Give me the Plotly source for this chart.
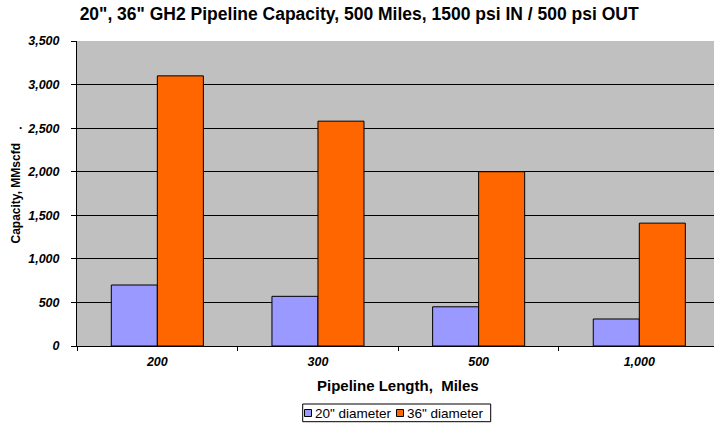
import plotly.graph_objects as go

categories = ["200", "300", "500", "1,000"]
dia20 = [700, 570, 450, 310]
dia36 = [3100, 2580, 2000, 1410]
series_names = ['20" diameter', '36" diameter']
series_colors = ["#9999FF", "#FF6600"]
y_ticks = [0, 500, 1000, 1500, 2000, 2500, 3000, 3500]

FONT = "Arial, Liberation Sans, sans-serif"

fig = go.Figure()
for vals, name, col in zip([dia20, dia36], series_names, series_colors):
    fig.add_trace(go.Bar(x=categories, y=vals, name=name, showlegend=False,
                         marker=dict(color=col, line=dict(color="black", width=1))))

# custom compact legend (box, swatches, labels) below the axis title
W0, WP = 77, 637      # plot-area left / width in px
B0, HP = 346, 305     # plot-area bottom / height in px
px = lambda v: (v - W0) / WP
py = lambda v: (B0 - v) / HP

shapes = [dict(type="rect", xref="paper", yref="paper",
               x0=px(302.7), x1=px(490.7), y0=py(421.7), y1=py(404),
               line=dict(color="black", width=1), fillcolor="white")]
annotations = []
sw_x = [304.5, 396.5]
for sx, name, col in zip(sw_x, series_names, series_colors):
    shapes.append(dict(type="rect", xref="paper", yref="paper",
                       x0=px(sx), x1=px(sx + 7), y0=py(416.5), y1=py(409.5),
                       line=dict(color="black", width=1), fillcolor=col))
    annotations.append(dict(text=name, x=px(sx + 8), y=py(413), xref="paper", yref="paper",
                            showarrow=False, xanchor="left", yanchor="middle",
                            font=dict(family=FONT, size=13.5)))

annotations += [
    dict(text="<b>Capacity, MMscfd</b>", textangle=-90, x=px(15), y=0.5,
         xref="paper", yref="paper", showarrow=False, xanchor="center", yanchor="middle",
         font=dict(family=FONT, size=12)),
    dict(text="<b>Pipeline Length,&nbsp; Miles</b>", x=px(398), y=py(385),
         xref="paper", yref="paper", showarrow=False, xanchor="center", yanchor="middle",
         font=dict(family=FONT, size=15)),
    dict(text="<b>.</b>", x=px(20), y=py(125), xref="paper", yref="paper", showarrow=False,
         xanchor="center", yanchor="middle", font=dict(family=FONT, size=12)),
]

fig.update_layout(
    width=714, height=423,
    margin=dict(l=77, r=0, t=41, b=77),
    paper_bgcolor="white", plot_bgcolor="#C0C0C0",
    barmode="group", bargap=0.427, bargroupgap=0,
    font=dict(family=FONT, color="black"),
    title=dict(text='20", 36" GH2 Pipeline Capacity, 500 Miles, 1500 psi IN / 500 psi OUT',
               x=0.503, xref="container", xanchor="center",
               y=1 - 14 / 423, yref="container", yanchor="middle",
               font=dict(family=FONT, size=17.5, weight="bold", color="black")),
    xaxis=dict(type="category", range=[-0.5, 3.465], showgrid=False,
               showline=True, linecolor="black", linewidth=1,
               ticks="outside", tickson="boundaries", ticklen=4, tickcolor="black",
               tickfont=dict(family=FONT, size=12.5, weight="bold", style="italic"),
               ticklabelstandoff=4),
    yaxis=dict(range=[0, 3500], tickvals=y_ticks, tickformat=",",
               showgrid=True, gridcolor="black", gridwidth=1, zeroline=False,
               showline=True, linecolor="black", linewidth=1,
               ticks="outside", ticklen=5, tickcolor="black",
               tickfont=dict(family=FONT, size=12.5, weight="bold", style="italic"),
               ticklabelstandoff=9),
    shapes=shapes,
    annotations=annotations,
)

fig.write_html("out.html", config={"displayModeBar": False},
               post_script="document.body.style.margin='0px';")
